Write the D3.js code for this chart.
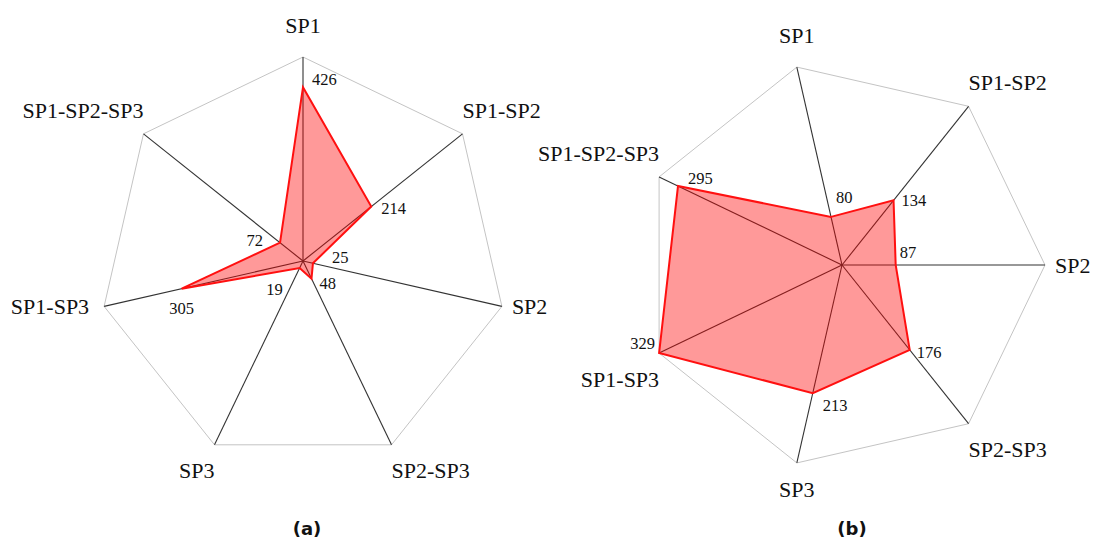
<!DOCTYPE html>
<html>
<head>
<meta charset="utf-8">
<script src="https://cdn.jsdelivr.net/npm/d3@7"></script>
<style>
  html, body { margin: 0; padding: 0; background: #fff; }
  svg text { font-family: "Liberation Serif", "DejaVu Serif", serif; fill: #111; }
  .caption { font-family: "DejaVu Sans", sans-serif !important; font-weight: bold; }
</style>
</head>
<body>
<svg id="chart" width="1105" height="539"></svg>
<script>
// Radar charts (a) and (b): counts per species combination
const axisNames = ['SP1', 'SP1-SP2', 'SP2', 'SP2-SP3', 'SP3', 'SP1-SP3', 'SP1-SP2-SP3'];
const valuesA = [426, 214, 25, 48, 19, 305, 72];
const valuesB = [80, 134, 87, 176, 213, 329, 295];
const maxA = 500;

// value label nudges (anchor, dx, dy) relative to each data point
const nudgeA = [['start', 9, -8], ['start', 10, 2], ['start', 19, -6], ['start', 8, 5],
                ['end', -17, 21], ['middle', 0, 20], ['end', -17, -2]];
const nudgeB = [['start', 5, -20], ['start', 8, 0], ['start', 4, -13], ['start', 7, 2],
                ['start', 10, 12], ['end', -4, -10], ['start', 10, -8]];

const svg = d3.select('#chart');
const step = 2 * Math.PI / axisNames.length;

function radar(cfg) {
  const g = svg.append('g').attr('transform', `translate(${cfg.cx},${cfg.cy})`);
  const r = d3.scaleLinear().domain([0, cfg.max]).range([0, cfg.R]);
  const theta = i => cfg.offset + i * step;

  // outer frame
  const frame = axisNames.map((d, i) => d3.pointRadial(theta(i), cfg.R));
  g.append('polygon')
    .attr('points', frame.map(p => p.join(',')).join(' '))
    .attr('fill', 'none').attr('stroke', '#c4c4c4').attr('stroke-width', 1);

  // spokes
  g.selectAll('.spoke').data(frame).join('line')
    .attr('class', 'spoke')
    .attr('x1', 0).attr('y1', 0)
    .attr('x2', d => d[0]).attr('y2', d => d[1])
    .attr('stroke', '#333').attr('stroke-width', 1.1);

  // data area
  const line = d3.lineRadial()
    .angle((d, i) => theta(i))
    .radius(d => r(d))
    .curve(d3.curveLinearClosed);
  g.append('path')
    .attr('d', line(cfg.values))
    .attr('fill', '#ff0000').attr('fill-opacity', 0.4)
    .attr('stroke', '#ff1010').attr('stroke-width', 2)
    .attr('stroke-linejoin', 'miter');

  // axis labels
  axisNames.forEach((name, i) => {
    const [vx, vy] = frame[i];
    const c = Math.sin(theta(i)), s = -Math.cos(theta(i));
    let x = vx, y = vy, anchor;
    if (Math.abs(s) < 0.3) {
      x = vx + (c > 0 ? 10 : -15);
      anchor = c > 0 ? 'start' : 'end';
    } else {
      y = vy + (s > 0 ? 26 : (s < -0.95 ? -32 : -24));
      anchor = Math.abs(c) < 0.25 ? 'middle' : (c > 0 ? 'start' : 'end');
    }
    g.append('text')
      .attr('x', x).attr('y', y).attr('dy', '0.35em')
      .attr('text-anchor', anchor)
      .style('font-size', '22px')
      .text(name);
  });

  // value labels
  cfg.values.forEach((v, i) => {
    const [px, py] = d3.pointRadial(theta(i), r(v));
    const [anchor, dx, dy] = cfg.nudge[i];
    g.append('text')
      .attr('x', px + dx).attr('y', py + dy).attr('dy', '0.35em')
      .attr('text-anchor', anchor)
      .style('font-size', '16.5px')
      .text(v);
  });

  svg.append('text')
    .attr('class', 'caption')
    .attr('x', cfg.captionX).attr('y', 535)
    .attr('text-anchor', 'middle')
    .style('font-size', '18px')
    .text(cfg.caption);
}

radar({ cx: 303, cy: 261, R: 204, max: maxA, offset: 0, values: valuesA, nudge: nudgeA, caption: '(a)', captionX: 307 });
radar({ cx: 842, cy: 265, R: 203, max: d3.max(valuesB), offset: -Math.PI / 14, values: valuesB, nudge: nudgeB, caption: '(b)', captionX: 852 });
</script>
</body>
</html>
